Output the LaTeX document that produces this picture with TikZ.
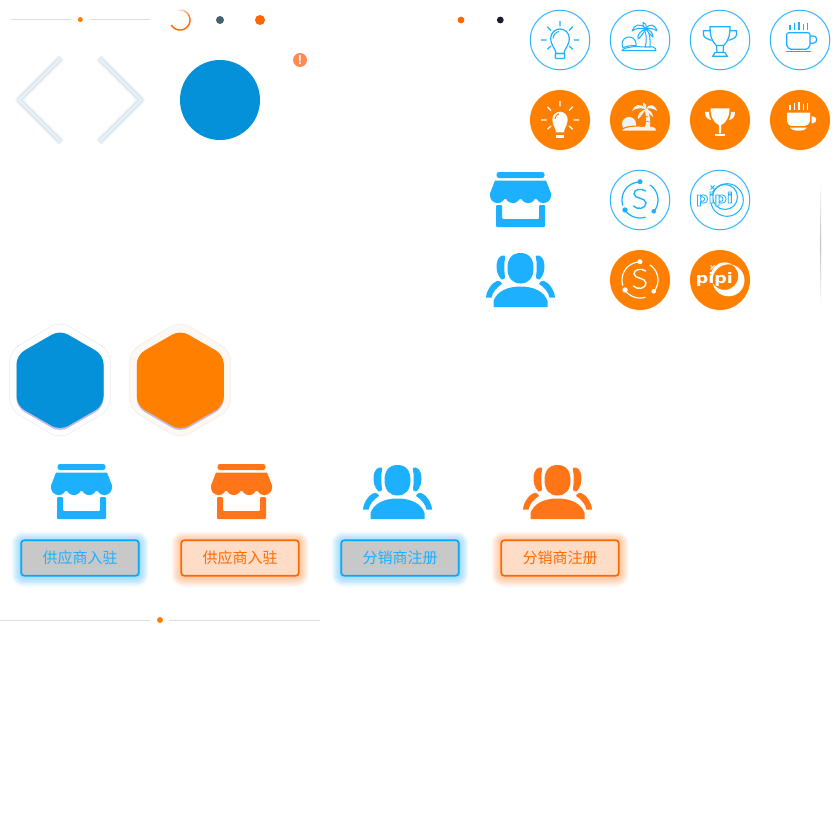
\documentclass[tikz,border=0pt]{standalone}
\usepackage{fontspec}
\setmainfont{Liberation Sans}
\newfontfamily\cjk{Noto Sans CJK SC}
\newfontfamily\logofont[FakeStretch=1.2]{DejaVu Sans Bold}
\usetikzlibrary{calc}
\definecolor{ringblue}{HTML}{33B5FF}
\definecolor{iconblue}{HTML}{1CB0FF}
\definecolor{iconorange}{HTML}{FF7518}
\definecolor{discorange}{HTML}{FF7F00}
\definecolor{deepblue}{HTML}{0590DA}
\definecolor{btnblue}{HTML}{00A8FF}
\definecolor{btnorange}{HTML}{FF6A00}
\definecolor{rulegrey}{HTML}{DDDDDD}
\definecolor{slatedot}{HTML}{46606E}
\definecolor{dotorange}{HTML}{FF6600}
\definecolor{inkdot}{HTML}{1C1C2E}
\definecolor{alertorange}{HTML}{FF8A55}
\definecolor{chevglow}{HTML}{BDD4E0}
\definecolor{chevline}{HTML}{E8F4F9}
\definecolor{hexshadow}{HTML}{8F86C8}
\definecolor{hexcream}{HTML}{FDF9F2}
\definecolor{hexedge}{HTML}{F0F0EE}
\tikzset{
  ringdisc/.style={draw=ringblue,line width=1pt,fill=white,circle,minimum size=59.5pt,inner sep=0pt},
  filldisc/.style={fill=discorange,circle,minimum size=60pt,inner sep=0pt},
  rulestyle/.style={draw=rulegrey,line width=0.9pt},
  btntext/.style={font=\cjk\fontsize{15}{15}\selectfont},
  logotext/.style={inner sep=0pt,font=\logofont\fontsize{14.5}{14.5}\selectfont}
}
% shop icon
\newcommand\shopicon[3]{\begin{scope}[shift={(#1,#2)}]\colorlet{ic}{#3}
 \fill[ic,rounded corners=2.5pt] (-24,-27.5) rectangle (24,-21.5);
 \fill[ic] (-25.5,-19) -- (25.5,-19) -- (30.5,-6) -- (30.5,-4) -- (27,-0.5) -- (-27,-0.5) -- (-30.5,-4) -- (-30.5,-6) -- cycle;
 \foreach \c in {-22.9,-7.6,7.6,22.9} \fill[ic] (\c,-4) circle (7.6pt);
 \fill[ic,rounded corners=1pt] (-24.5,5.5) -- (-18.5,5.5) -- (-18.5,19.5) -- (18.5,19.5) -- (18.5,5.5) -- (24.5,5.5) -- (24.5,27.5) -- (-24.5,27.5) -- cycle;
\end{scope}}
% people icon
\newcommand\peopleside{
 \fill[ic] (-16,-24.5) .. controls (-25,-26) and (-27,-8) .. (-19,-0.5) .. controls (-17,-0.5) and (-15,-1) .. (-15.5,-3) .. controls (-16.5,-10) and (-16.5,-18) .. (-15.5,-21.5) .. controls (-15,-23) and (-15.5,-24.5) .. (-16,-24.5) -- cycle;
 \fill[ic] (-23,0.8) .. controls (-28,2) and (-34,10) .. (-34.5,17.5) -- (-29,17.5) .. controls (-28,12) and (-23,6.5) .. (-18.5,4) .. controls (-18.5,2.5) and (-21,0.3) .. (-23,0.8) -- cycle;
}
\newcommand\peopleicon[3]{\begin{scope}[shift={(#1,#2)}]\colorlet{ic}{#3}
 \fill[ic] (0,-27) .. controls (9.5,-27) and (13,-20) .. (13,-12) .. controls (13,-2) and (8,3.5) .. (0,3.5) .. controls (-8,3.5) and (-13,-2) .. (-13,-12) .. controls (-13,-20) and (-9.5,-27) .. (0,-27) -- cycle;
 \fill[ic] (-27,27) -- (-27,21) .. controls (-24,12) and (-14,6.5) .. (0,6.5) .. controls (14,6.5) and (24,12) .. (27,21) -- (27,27) -- cycle;
 \peopleside
 \begin{scope}[xscale=-1]\peopleside\end{scope}
\end{scope}}
% rays shared by both bulbs
\newcommand\bulbrays{
 \draw[ic,line width=1.2pt] (0,-19) -- (0,-13.5) (-19,0) -- (-13.5,0) (19,0) -- (13.5,0)
   (-12.7,-13.3) -- (-9,-9.5) (12.7,-13.3) -- (9,-9.5) (-12.7,9.3) -- (-9,6) (12.7,9.3) -- (9,6);
}
\newcommand\palmshape[1]{
 \path[#1] (-18,10.7) .. controls (-16,7) and (-4,6) .. (2,7) -- (13,7) .. controls (15,7.5) and (16,9) .. (16,10.7) -- cycle;
 \path[#1] (-18,4) .. controls (-18,-0.5) and (-14.5,-3) .. (-11,-3) .. controls (-7.5,-3) and (-4,-0.5) .. (-4,4) -- (-4,5.5) .. controls (-9,5.5) and (-14,6) .. (-17,8) -- cycle;
 \path[#1] (5,7) .. controls (7,1) and (6.5,-5) .. (4.5,-10) -- (7.5,-11) .. controls (10,-5) and (10.5,1) .. (10,7) -- cycle;
 \path[#1] (6,-11) .. controls (0,-18) and (-6,-15) .. (-8,-9) .. controls (-4,-12) and (0,-12) .. (6,-11) -- cycle;
 \path[#1] (6,-11) .. controls (3,-14) and (2,-16) .. (3,-17.5) .. controls (5,-17.5) and (7,-15) .. (6,-11) -- cycle;
 \path[#1] (6,-11) .. controls (9,-17) and (15,-16) .. (17,-9) .. controls (13,-12) and (9,-12) .. (6,-11) -- cycle;
 \path[#1] (6,-11) .. controls (0,-9) and (-3,-5) .. (-2,-1) .. controls (1,-3) and (3,-7) .. (6,-11) -- cycle;
 \path[#1] (6,-11) .. controls (10,-10) and (13,-7) .. (13,-3) .. controls (10,-5) and (8,-8) .. (6,-11) -- cycle;
}
\newcommand\steam{
 \foreach \c/\t in {-10/-15,-5.7/-17,-1/-18,3.3/-15.5,7.7/-17} \draw[ic,line width=1.1pt] (\c,\t) -- (\c,-10);
}
\newcommand\sring{
 \draw[ic,line width=1.2pt,line cap=round,smooth] plot[domain=-95:-197,samples=30] ({18*cos(\x)},{18*sin(\x)});
 \draw[ic,line width=1.2pt,line cap=round,smooth] plot[domain=-56:40,samples=30] ({18*cos(\x)},{18*sin(\x)});
 \draw[ic,line width=1.2pt,line cap=round,smooth] plot[domain=146:73,samples=30] ({18*cos(\x)},{18*sin(\x)});
 \fill[ic] (0,-18.3) circle (2.5pt) (-15,10) circle (2.7pt) (13.7,11.3) circle (2.3pt);
 \draw[ic,line width=1.4pt,line cap=round] (5.5,-9) .. controls (2,-12) and (-6.5,-11) .. (-6,-6) .. controls (-5.5,-1) and (6,-2.5) .. (6,3) .. controls (6,9) and (-3,10) .. (-6.5,6);
}
% button with glow
\newcommand\btn[6]{
 \foreach \i in {1,...,9} \fill[#3,opacity=0.045,rounded corners={(3+\i)*1pt}] ({#1-59.5-\i},{#2-18.5-\i+1}) rectangle ({#1+59.5+\i},{#2+18.5+\i+1});
 \node[draw=#3,line width=1.7pt,fill=#4,rounded corners=3pt,minimum width=117.5pt,minimum height=35.5pt,inner sep=0pt,text=#5,btntext] (#6) at (#1,#2) {\strut};
}
\newcommand\hexa[4]{
 \path[draw=hexedge,line width=0.8pt,fill=#4,rounded corners=11pt] (#1,#2-59) -- (#1+50.5,#2-29) -- (#1+50.5,#2+29) -- (#1,#2+59) -- (#1-50.5,#2+29) -- (#1-50.5,#2-29) -- cycle;
 \fill[hexshadow,opacity=.55,rounded corners=9pt] (#1,#2-48.5) -- (#1+43.5,#2-23.5) -- (#1+43.5,#2+27.5) -- (#1,#2+52.5) -- (#1-43.5,#2+27.5) -- (#1-43.5,#2-23.5) -- cycle;
 \fill[#3,rounded corners=9pt] (#1,#2-50) -- (#1+43.5,#2-25) -- (#1+43.5,#2+25.5) -- (#1,#2+50.5) -- (#1-43.5,#2+25.5) -- (#1-43.5,#2-25) -- cycle;
}
\newcommand\chevron[6]{
 \foreach \w in {8,6,5,4,3} \draw[chevglow,opacity=.14,line width=\w pt,line join=round] (#1,#2) -- (#3,#4) -- (#5,#6);
 \draw[chevline,line width=1.5pt,line join=miter] (#1,#2) -- (#3,#4) -- (#5,#6);
}
\begin{document}
\begin{tikzpicture}[x=1pt,y=-1pt]
\useasboundingbox[fill=white] (0,0) rectangle (840,840);
% top rule
\coordinate (ta) at (11,19.5); \coordinate (tb) at (71,19.5);
\coordinate (tc) at (90,19.5); \coordinate (td) at (150,19.5);
\draw[rulestyle] (ta) -- (tb) (tc) -- (td);
\fill[discorange] (80.3,19.5) circle (2.5pt);
% spinner
\foreach \a in {-110,-100,...,-10} \draw[dotorange,line width=1.4pt,opacity={(\a+115)/105}] ({180+10*cos(\a)},{20+10*sin(\a)}) -- ({180+10*cos(\a+10)},{20+10*sin(\a+10)});
\draw[dotorange,line width=1.4pt,smooth] plot[domain=0:150,samples=40] ({180+10*cos(\x)},{20+10*sin(\x)});
% dots
\fill[slatedot] (220,20) circle (4pt);
\fill[dotorange] (260,20) circle (5pt);
\fill[dotorange] (461,20) circle (3.4pt);
\fill[inkdot] (500.3,20) circle (3.4pt);
% chevrons
\chevron{61}{58}{19}{100}{61}{142}
\chevron{99}{58}{141}{100}{99}{142}
% big disc and alert
\fill[deepblue] (220,100) circle (40pt);
\node[fill=alertorange,circle,minimum size=14pt,inner sep=0pt,text=white,font=\bfseries\fontsize{13}{13}\selectfont] (alert) at (300,60) {!};
% outline and filled discs
\foreach \x/\y/\n in {560/40/a,640/40/b,720/40/c,800/40/d,640/200/e,720/200/f} \node[ringdisc] (r\n) at (\x,\y) {};
\foreach \x/\y/\n in {560/120/a,640/120/b,720/120/c,800/120/d,640/280/e,720/280/f} \node[filldisc] (s\n) at (\x,\y) {};
% bulb outline
\begin{scope}[shift={(560,40)}]\colorlet{ic}{iconblue}
 \bulbrays
 \draw[ic,line width=1.2pt] (-4,13.5) .. controls (-4,9) and (-9.3,6) .. (-9.3,-1.7) .. controls (-9.3,-7) and (-5,-11) .. (0,-11) .. controls (5,-11) and (9.3,-7) .. (9.3,-1.7) .. controls (9.3,6) and (4,9) .. (4,13.5) -- cycle;
 \draw[ic,line width=1pt] (-7,-1.5) .. controls (-7,-5) and (-4,-8) .. (-1,-8.5);
 \draw[ic,line width=1.2pt,rounded corners=1pt] (-4.7,13.5) rectangle (4.7,18.5);
\end{scope}
% bulb solid
\begin{scope}[shift={(560,120)}]\colorlet{ic}{white}
 \bulbrays
 \fill[ic] (-4,12.5) .. controls (-4,8) and (-7.7,5) .. (-7.7,-0.5) .. controls (-7.7,-5) and (-4,-8.3) .. (0,-8.3) .. controls (4,-8.3) and (7.7,-5) .. (7.7,-0.5) .. controls (7.7,5) and (4,8) .. (4,12.5) -- cycle;
 \draw[discorange,line width=0.9pt] (-5,-1) .. controls (-5,-4) and (-3,-6) .. (-1,-6.3);
 \fill[ic] (-4,14.7) rectangle (4,18);
\end{scope}
% palm outline and solid
\begin{scope}[shift={(640,40)}]\colorlet{ic}{iconblue}
 \palmshape{draw=ic,line width=1pt,line join=round,fill=white}
\end{scope}
\begin{scope}[shift={(640,120)}]
 \palmshape{fill=white!95!black}
 \draw[discorange,line width=0.7pt] (4.5,-4) -- (8,-3) (5.5,1) -- (9.5,2);
\end{scope}
% trophy outline
\begin{scope}[shift={(720,40)}]\colorlet{ic}{iconblue}
 \draw[ic,line width=1.2pt,line join=round] (-10,-13.3) -- (10,-13.3) .. controls (10,-4) and (8,2) .. (3.5,5.5) -- (-3.5,5.5) .. controls (-8,2) and (-10,-4) .. (-10,-13.3) -- cycle;
 \draw[ic,line width=1.2pt] (-10,-9.3) -- (-16.5,-9.3) -- (-16.5,-5) .. controls (-16,-2) and (-12,-1) .. (-8.5,0.5);
 \draw[ic,line width=1.2pt] (10,-9.3) -- (16.5,-9.3) -- (16.5,-5) .. controls (16,-2) and (12,-1) .. (8.5,0.5);
 \draw[ic,line width=1.2pt] (-3.5,5.5) -- (-3,12.5) (3.5,5.5) -- (3,12.5);
 \draw[ic,line width=1.2pt] (-5,12.5) -- (5,12.5) -- (7.3,16.3) -- (-7.3,16.3) -- cycle;
\end{scope}
% trophy solid
\begin{scope}[shift={(720,120)}]\colorlet{ic}{white}
 \fill[ic] (-9.5,-11.7) -- (9.5,-11.7) .. controls (9.5,-3) and (6,3) .. (1.2,5) -- (1.2,13.5) -- (-1.2,13.5) -- (-1.2,5) .. controls (-6,3) and (-9.5,-3) .. (-9.5,-11.7) -- cycle;
 \fill[ic] (-5,14) rectangle (5,16);
 \fill[ic] (-15,-8) -- (-11,-8) .. controls (-10.8,-4) and (-10,-2) .. (-9,0) .. controls (-12.5,-0.5) and (-15,-3) .. (-15,-8) -- cycle;
 \fill[ic] (15,-8) -- (11,-8) .. controls (10.8,-4) and (10,-2) .. (9,0) .. controls (12.5,-0.5) and (15,-3) .. (15,-8) -- cycle;
\end{scope}
% cup outline
\begin{scope}[shift={(800,40)}]\colorlet{ic}{iconblue}
 \steam
 \draw[ic,line width=1.2pt,rounded corners=2pt] (-13.3,-7.3) -- (10,-7.3) -- (10,3) .. controls (10,7) and (7,9.3) .. (4,9.3) -- (-7,9.3) .. controls (-10.5,9.3) and (-13.3,7) .. (-13.3,3) -- cycle;
 \draw[ic,line width=1.2pt] (10,-4) -- (13,-4) .. controls (18,-4) and (18,3) .. (13,3.3) -- (10,3.3);
 \draw[ic,line width=1.2pt] (-14,11.5) -- (10.7,11.5);
\end{scope}
% cup solid
\begin{scope}[shift={(800,120)}]\colorlet{ic}{white}
 \steam
 \fill[ic] (-13,-7.3) -- (10,-7.3) -- (10,1) .. controls (10,4) and (7,6) .. (4,6) -- (-7,6) .. controls (-10.5,6) and (-13,4) .. (-13,1) -- cycle;
 \fill[ic] (-10,7.7) -- (7,7.7) .. controls (5,10) and (3,10.7) .. (0,10.7) -- (-3,10.7) .. controls (-6,10.7) and (-8,10) .. (-10,7.7) -- cycle;
 \fill[ic] (11.7,-3.7) -- (12.5,-3.7) .. controls (17.5,-3.7) and (17.5,3.3) .. (12.5,3.3) -- (11.7,3.3) -- cycle;
\end{scope}
% S icons
\begin{scope}[shift={(640,200)}]\colorlet{ic}{iconblue}\sring\end{scope}
\begin{scope}[shift={(640,280)}]\colorlet{ic}{white}\sring\end{scope}
% pipi outline
\begin{scope}[shift={(720,200)}]\colorlet{ic}{iconblue}
 \draw[ic,line width=1pt] (7,0) circle (16.3pt);
 \draw[ic,line width=1pt] (5,-3) circle (12.5pt);
 \node[text=white,logotext] (logoback) at (-5.6,-1) {pipi};
 \node[text=ic,logotext] (logoa) at (-5.6,-1) {\special{pdf:code 1 Tr 0.8 w}pipi\special{pdf:code 0 Tr}};
 \draw[ic,line width=0.8pt] (-9.5,-14.5) -- (-5.5,-10.5) (-9.5,-10.5) -- (-5.5,-14.5);
\end{scope}
% pipi solid
\begin{scope}[shift={(720,280)}]\colorlet{ic}{white}
 \fill[ic,even odd rule] (8.5,0.3) circle (16pt) (4.5,-3.8) circle (13.8pt);
 \node[text=ic,logotext] (logob) at (-5.6,-1) {pipi};
 \draw[ic,line width=0.8pt] (-9.5,-14.5) -- (-5.5,-10.5) (-9.5,-10.5) -- (-5.5,-14.5);
\end{scope}
% top right solid icons
\shopicon{520.5}{199.5}{iconblue}
\peopleicon{520.5}{280}{iconblue}
% faint vertical rule
\shade[top color=white,bottom color=white,middle color=black!25] (820,182) rectangle (821,306);
% hexagons
\hexa{60}{380}{deepblue}{white}
\hexa{180.3}{380}{discorange}{hexcream}
% lower icons
\shopicon{81.5}{491.5}{iconblue}
\shopicon{241.5}{491.5}{iconorange}
\peopleicon{397.5}{492}{iconblue}
\peopleicon{557.5}{492}{iconorange}
% buttons
\definecolor{btngrey}{HTML}{C8C8C8}\definecolor{btnpeach}{HTML}{FFDCC6}
\btn{80}{558}{btnblue}{btngrey}{iconblue}{ba}
\btn{240}{558}{btnorange}{btnpeach}{btnorange}{bb}
\btn{400}{558}{btnblue}{btngrey}{iconblue}{bc}
\btn{560}{558}{btnorange}{btnpeach}{btnorange}{bd}
\node[btntext,text=iconblue] at (ba) {供应商入驻};
\node[btntext,text=btnorange] at (bb) {供应商入驻};
\node[btntext,text=iconblue] at (bc) {分销商注册};
\node[btntext,text=btnorange] at (bd) {分销商注册};
% bottom rule
\coordinate (ua) at (0,620.5); \coordinate (ub) at (150,620.5);
\coordinate (uc) at (169,620.5); \coordinate (ud) at (320,620.5);
\draw[rulestyle] (ua) -- (ub) (uc) -- (ud);
\fill[discorange] (160,620) circle (3pt);
\end{tikzpicture}
\end{document}
